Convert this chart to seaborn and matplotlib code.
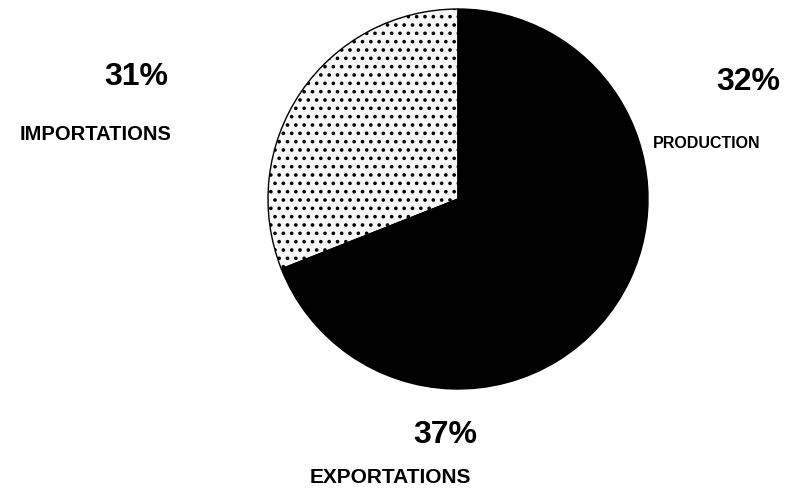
import matplotlib
matplotlib.use("Agg")
import matplotlib.pyplot as plt
import seaborn as sns

# Shares of the three flows (percent), in counter-clockwise order from 12 o'clock
categories = ["IMPORTATIONS", "EXPORTATIONS", "PRODUCTION"]
shares = [31, 37, 32]

sns.set_theme(style="white")
plt.rcParams["font.family"] = ["Liberation Sans", "DejaVu Sans"]
plt.rcParams["hatch.linewidth"] = 1.4

fig = plt.figure(figsize=(7.86, 4.89), dpi=100)
fig.patch.set_facecolor("white")

# Axes box sized so the unit-radius pie fills it exactly
ax = fig.add_axes([268 / 786, 1 - 390 / 489, 380 / 786, 380 / 489])
wedges, _ = ax.pie(
    shares,
    startangle=90,
    counterclock=True,
    radius=1.0,
    colors=["#f7f7f7", "black", "black"],
    wedgeprops=dict(linewidth=1.0, edgecolor="black"),
)
wedges[0].set_hatch("..")
ax.set_xlim(-1, 1)
ax.set_ylim(-1, 1)
ax.set_aspect("equal")
ax.axis("off")

# Percent and name for each slice, placed around the pie (figure pixels)
pct_pos = {"IMPORTATIONS": (136, 77), "PRODUCTION": (748, 82), "EXPORTATIONS": (445, 435)}
name_pos = {"IMPORTATIONS": (96, 134), "PRODUCTION": (707, 143), "EXPORTATIONS": (390, 478)}
name_size = {"IMPORTATIONS": 14.5, "PRODUCTION": 11.5, "EXPORTATIONS": 15}

for cat, val in zip(categories, shares):
    px, py = pct_pos[cat]
    fig.text(px / 786, 1 - py / 489, f"{val}%", ha="center", va="center",
             fontsize=23, fontweight="bold", color="black")
    nx, ny = name_pos[cat]
    fig.text(nx / 786, 1 - ny / 489, cat, ha="center", va="center",
             fontsize=name_size[cat], fontweight="bold", color="black")

fig.savefig("out.png", dpi=100, facecolor="white")
